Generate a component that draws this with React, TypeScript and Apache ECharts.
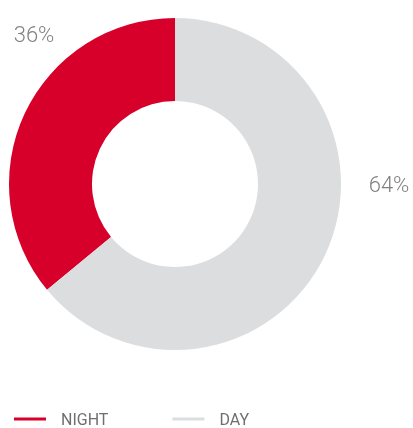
import React, { useEffect, useRef } from "react";
import * as echarts from "echarts";

const categories = ["NIGHT", "DAY"];
const values = [36, 64];
const colors = ["#D7002B", "#DCDDDF"];
const labelSpots = [
  [34, 34],
  [389, 184],
];

export default function App() {
  const ref = useRef<HTMLDivElement>(null);
  useEffect(() => {
    const chart = echarts.init(ref.current!, null, { renderer: "svg" });
    chart.setOption({
      animation: false,
      color: colors,
      legend: {
        left: 14,
        top: 411,
        padding: 0,
        icon: "rect",
        itemWidth: 32,
        itemHeight: 3,
        itemGap: 64,
        data: categories,
        textStyle: {
          fontFamily: "Roboto",
          fontSize: 16,
          lineHeight: 16,
          color: "#6f6f6f",
          padding: [0, 0, 0, 10],
        },
      },
      series: [
        {
          type: "pie",
          center: [175, 184],
          radius: [83, 166],
          startAngle: 90,
          clockwise: false,
          silent: true,
          label: {
            show: true,
            position: "outside",
            formatter: "{c}%",
            fontFamily: "Roboto",
            fontSize: 22,
            fontWeight: 300,
            color: "#808080",
            overflow: "none",
            width: 80,
          },
          labelLine: { show: false },
          labelLayout: (p: any) => ({
            x: labelSpots[p.dataIndex][0],
            y: labelSpots[p.dataIndex][1],
            align: "center",
            verticalAlign: "middle",
            hideOverlap: false,
            moveOverlap: false,
          }),
          data: categories.map((c, i) => ({ name: c, value: values[i] })),
        },
      ],
    });
    return () => chart.dispose();
  }, []);
  return (
    <div
      ref={ref}
      style={{ position: "fixed", left: 0, top: 0, width: 413, height: 428 }}
    />
  );
}
